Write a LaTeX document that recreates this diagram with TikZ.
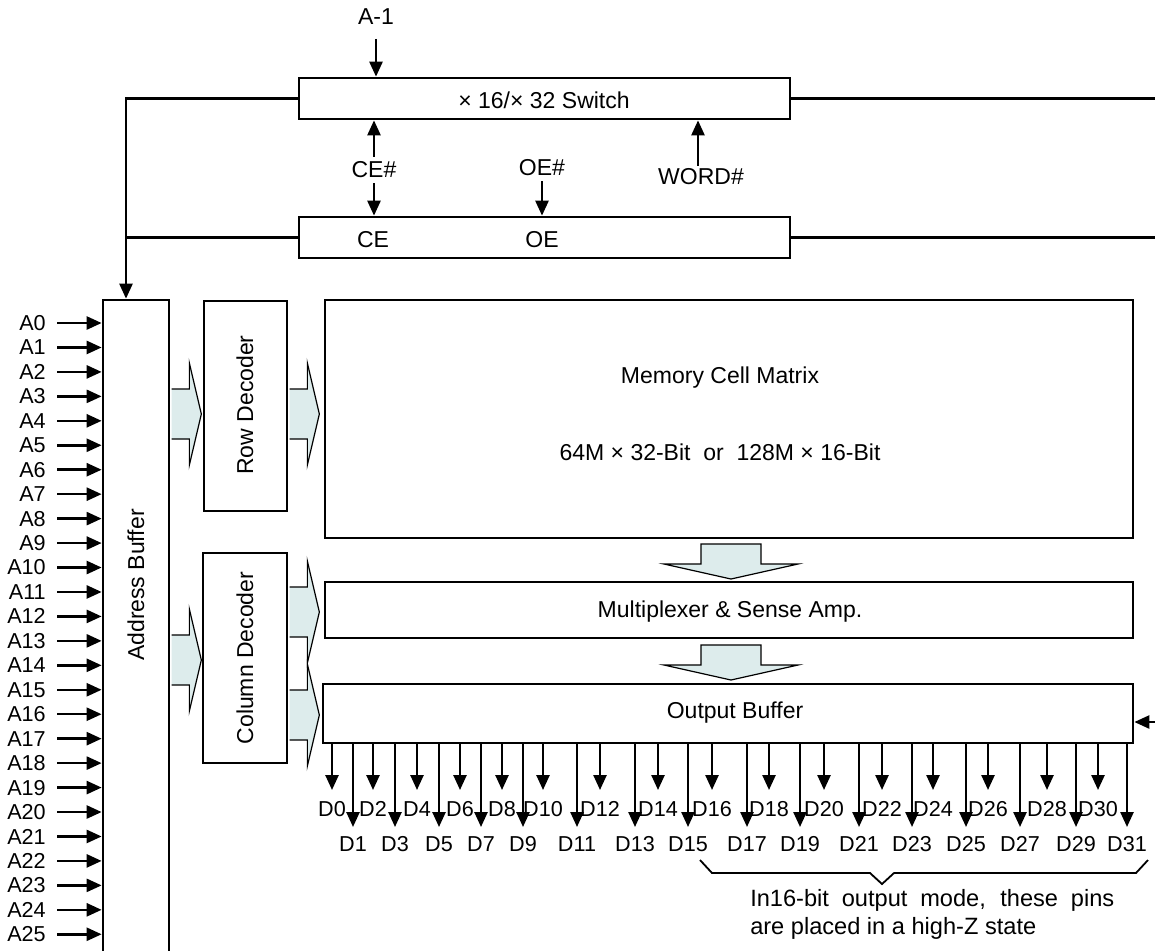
\documentclass[tikz,border=0pt]{standalone}
\usepackage{fontspec}
\setmainfont{Liberation Sans}
\usepackage{tikz}
\usetikzlibrary{arrows.meta,calc,fit,positioning}

\definecolor{fatfill}{RGB}{221,236,236}
% wide hollow arrows between the blocks
\newcommand\fatright[1]{\filldraw[fat,shift={#1}] (1.3,-25) -- (19,-25) -- (19,-51) -- (31,0) -- (19,51) -- (19,25) -- (1.3,25);}
\newcommand\fatdown[1]{\filldraw[fat,shift={#1}] (-30,0) -- (30,0) -- (30,20) -- (67,20) -- (0,35) -- (-67,20) -- (-30,20) -- cycle;}

\begin{document}
\begin{tikzpicture}[x=0.5pt,y=-0.5pt,line width=1.25pt,
    font=\fontsize{11.5}{13.8}\selectfont,
    box/.style={draw,line width=1.35pt,inner sep=0pt},
    txt/.style={inner sep=2pt},
    pin/.style={inner sep=2pt,font=\fontsize{10.8}{13}\selectfont},
    vtxt/.style={inner sep=2pt,rotate=90},
    sig/.style={-{Triangle[length=7.5pt,width=6.5pt]},line width=1.25pt},
    fat/.style={draw=black,fill=fatfill,line width=0.6pt}]
  \useasboundingbox (0,0) rectangle (1155,950);
  \clip (0,0) rectangle (1155,950);

  % blocks
  \node[box,fit={(299,78) (790,119)}] (sw) {};
  \node[txt] (swlbl) at (544,100) {× 16/× 32 Switch};
  \node[box,fit={(299,217) (790,258)}] (ctl) {};
  \node[txt] (ce) at (373,240) {CE};
  \node[txt] (oe) at (542,240) {OE};
  \node[box,fit={(103,300) (169,1000)}] (abuf) {};
  \node[vtxt] (abuflbl) at (136,585) {Address Buffer};
  \node[box,fit={(204,301) (287,511)}] (rdec) {};
  \node[vtxt] (rdeclbl) at (245,405) {Row Decoder};
  \node[box,fit={(203,553) (287,763)}] (cdec) {};
  \node[vtxt] (cdeclbl) at (245,658) {Column Decoder};
  \node[box,fit={(325,300) (1133,538)}] (mat) {};
  \node[txt] (matlbl) at (720,378) {Memory Cell Matrix};
  \node[txt] (matsize) at (720,452) {64M × 32-Bit\ \ or\ \ 128M × 16-Bit};
  \node[box,fit={(325,582) (1133,638)}] (mux) {};
  \node[txt] (muxlbl) at (730,612) {Multiplexer \& Sense Amp.};
  \node[box,fit={(323,684) (1133,743)}] (obuf) {};
  \node[txt] (obuflbl) at (735,713) {Output Buffer};

  % control inputs
  \node[txt] (am1) at (376,17) {A-1};
  \draw[sig,shorten <=4.4pt] (am1.south) -- (am1.south |- sw.north);
  \node[txt] (cein) at (374,170) {CE\#};
  \draw[sig] (cein.north) -- (cein.north |- sw.south);
  \draw[sig] (cein.south) -- (cein.south |- ctl.north);
  \node[txt] (oein) at (542,168) {OE\#};
  \draw[sig] (oein.south) -- (oein.south |- ctl.north);
  \node[txt] (wordin) at (701,177) {WORD\#};
  \draw[sig,shorten <=-1pt] ([xshift=-1.5pt]wordin.north) -- ([xshift=-1.5pt]wordin.north |- sw.south);

  % internal bus
  \coordinate (bus) at ([xshift=-5pt]abuf.north);
  \coordinate (redge) at (1155,0);
  \draw[sig] (sw.west) -| (bus);
  \draw (ctl.west) -- (ctl.west -| bus);
  \draw (sw.east) -- (sw.east -| redge);
  \draw (ctl.east) -- (ctl.east -| redge);
  \coordinate (oein2) at (1155,722);
  \draw[sig] (oein2) -- (oein2 -| obuf.east);

  % address pins
  \foreach \n in {0,...,25} {
    \node[pin,anchor=east] (A\n) at (51,323+24.45*\n) {A\n};
    \draw[sig,shorten <=3pt] (A\n.east) -- (A\n.east -| abuf.west);
  }

  % wide arrows
  \fatright{(abuf.east |- 0,414)}
  \fatright{(abuf.east |- 0,660)}
  \fatright{(rdec.east |- 0,414)}
  \fatright{(cdec.east |- 0,612)}
  \fatright{(cdec.east |- 0,715)}
  \fatdown{(731,544)}
  \fatdown{(731,645)}

  % data pins
  \foreach \n/\x in {0/332,2/373,4/417,6/460,8/502,10/543,12/600,14/658,
      16/712,18/769,20/824,22/882,24/933,26/988,28/1047,30/1098} {
    \coordinate (t\n) at (\x,790);
    \draw[sig] (t\n |- obuf.south) -- (t\n);
    \node[pin,below=3.1pt of t\n] (D\n) {D\n};
  }
  \foreach \n/\x in {1/353,3/395,5/439,7/481,9/523,11/577,13/635,15/688,
      17/747,19/800,21/859,23/912,25/966,27/1020,29/1076,31/1127} {
    \coordinate (t\n) at (\x,827);
    \draw[sig] (t\n |- obuf.south) -- (t\n);
    \node[pin,below=2.1pt of t\n] (D\n) {D\n};
  }

  % upper half note
  \draw[line width=0.9pt] (700,860) -- (712,873) -- (870,873) -- (882,884)
    -- (894,873) -- (1136,873) -- (1148,860);
  \node[inner sep=0pt,anchor=north west,align=left,
    font=\fontsize{11.8}{14}\selectfont] (note) at (749,888)
    {\makebox[182pt][s]{In16-bit output mode, these pins}\\are placed in a high-Z state};
\end{tikzpicture}
\end{document}
